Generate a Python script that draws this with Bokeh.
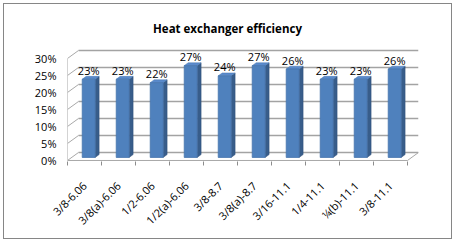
from bokeh.plotting import figure
from bokeh.models import FixedTicker, NumeralTickFormatter, ColumnDataSource, Range1d
from bokeh.embed import file_html
from bokeh.resources import INLINE
from bokeh.core.properties import value
import math

# ---- data ----
categories = ["3/8-6.06", "3/8(a)-6.06", "1/2-6.06", "1/2(a)-6.06", "3/8-8.7",
              "3/8(a)-8.7", "3/16-11.1", "1/4-11.1", "\u00bc(b)-11.1", "3/8-11.1"]
efficiency = [0.23, 0.23, 0.22, 0.27, 0.24, 0.27, 0.26, 0.23, 0.23, 0.26]
y_ticks = [0.0, 0.05, 0.10, 0.15, 0.20, 0.25, 0.30]
title_text = "Heat exchanger efficiency"

# ---- 3D style parameters ----
DX = 0.324
DY = 0.0235
F_FRONT = 0.38
F_SIDE = 0.36
BAR_W = 0.38
FONT = "Open Sans"

n = len(categories)
p = figure(width=455, height=242, output_backend="svg", toolbar_location=None,
           x_range=Range1d(0, n + DX), y_range=Range1d(-0.003, 0.447),
           min_border_left=67, min_border_right=37, min_border_top=8, min_border_bottom=81)
p.outline_line_color = None
p.xgrid.visible = False
p.ygrid.visible = False
p.background_fill_color = None
p.border_fill_color = None
p.styles = {"background": "white",
            "box-shadow": "inset 0 0 0 3px white, inset 0 0 0 4px #868686"}

grid_col = "#a3a3a3"
p.segment(x0=[DX] * len(y_ticks), y0=[t + DY for t in y_ticks],
          x1=[n + DX] * len(y_ticks), y1=[t + DY for t in y_ticks],
          line_color=grid_col, line_width=1.6)
p.segment(x0=[0] * len(y_ticks), y0=y_ticks,
          x1=[DX] * len(y_ticks), y1=[t + DY for t in y_ticks],
          line_color="#a8a8a8", line_width=1)
p.segment(x0=[0], y0=[0], x1=[0], y1=[y_ticks[-1]], line_color="#a8a8a8", line_width=1)
p.segment(x0=[0, n], y0=[0, 0], x1=[n, n + DX], y1=[0, DY],
          line_color="#a8a8a8", line_width=1)

fx = [i + 0.5 + F_FRONT * DX for i in range(n)]
fy0 = F_FRONT * DY
left = [x - BAR_W / 2 for x in fx]
right = [x + BAR_W / 2 for x in fx]
top = [v + fy0 for v in efficiency]
sdx = F_SIDE * DX
sdy = F_SIDE * DY

side_xs = [[r, r + sdx, r + sdx, r] for r in right]
side_ys = [[fy0, fy0 + sdy, t + sdy, t] for t in top]
top_xs = [[l, r, r + sdx, l + sdx] for l, r in zip(left, right)]
top_ys = [[t, t, t + sdy, t + sdy] for t in top]

p.patches(xs=side_xs, ys=side_ys, fill_color="#385D8A", line_color="#2f4f78", line_width=0.5)
p.patches(xs=top_xs, ys=top_ys, fill_color="#5A8ACB", line_color="#4a78b0", line_width=0.5)
p.quad(left=left, right=right, bottom=[fy0] * n, top=top,
       fill_color="#4F81BD", line_color="#4675ad", line_width=0.8)

src = ColumnDataSource(dict(x=fx, y=top, t=["%d%%" % round(v * 100) for v in efficiency]))
p.text(x="x", y="y", text="t", source=src, text_align="center", text_baseline="alphabetic",
       y_offset=-9, text_font=value(FONT), text_font_size="11px", text_color="black")

# chart title (drawn inside the extended frame)
p.text(x=[(227 - 67) / 34.0], y=[(160 - 28) / 340.0], text=[title_text],
       text_align="center", text_baseline="alphabetic", text_font=value(FONT),
       text_font_style="bold", text_font_size="11.5px", text_color="black")

xa = p.xaxis[0]
xa.ticker = FixedTicker(ticks=[i + 0.5 for i in range(n)], minor_ticks=list(range(n + 1)))
xa.major_label_overrides = {i + 0.5: c for i, c in enumerate(categories)}
xa.major_label_orientation = math.pi / 4
xa.major_tick_line_color = None
xa.major_tick_out = 0
xa.major_tick_in = 0
xa.minor_tick_line_color = "#8c8c8c"
xa.minor_tick_out = 4
xa.minor_tick_in = 0
xa.axis_line_color = None
xa.major_label_standoff = 18
xa.major_label_text_font = FONT
xa.major_label_text_font_size = "11px"
xa.major_label_text_color = "black"

ya = p.yaxis[0]
ya.ticker = FixedTicker(ticks=y_ticks)
ya.formatter = NumeralTickFormatter(format="0%")
ya.axis_line_color = None
ya.major_tick_line_color = None
ya.minor_tick_line_color = None
ya.major_tick_out = 0
ya.major_tick_in = 0
ya.major_label_standoff = 11
ya.major_label_text_font = FONT
ya.major_label_text_font_size = "11px"
ya.major_label_text_color = "black"

open("out.html", "w").write(file_html(p, INLINE))
